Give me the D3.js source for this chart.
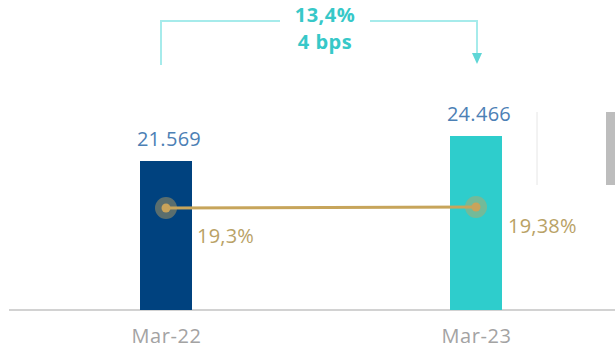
<!DOCTYPE html>
<html>
<head>
<meta charset="utf-8">
<script src="https://cdn.jsdelivr.net/npm/d3@7"></script>
<style>
  html, body { margin: 0; padding: 0; background: #fff; }
  svg { display: block; }
  text { font-family: "Open Sans", "Noto Sans", sans-serif; }
</style>
</head>
<body>
<svg id="chart" width="615" height="349"></svg>
<script>
// ---- data ----
const categories = ["Mar-22", "Mar-23"];
const barValues = [21569, 24466];
const barLabels = ["21.569", "24.466"];
const ratioValues = [19.3, 19.38];
const ratioLabels = ["19,3%", "19,38%"];
const growthLabels = ["13,4%", "4 bps"];
const barColors = ["#00427f", "#2ecdcc"];

const svg = d3.select("#chart");

// ---- scales ----
const x = d3.scalePoint().domain(categories).range([166, 476]);
const y = d3.scaleLinear().domain([4300, 24466]).range([310, 136]);
const yR = d3.scaleLinear().domain([19.3, 19.38]).range([208, 207]);
const barW = 52;

// ---- baseline axis ----
const xAxis = d3.axisBottom(x).tickSize(0).tickPadding(0);
const gAxis = svg.append("g").attr("transform", "translate(0,310)").call(xAxis);
gAxis.select(".domain").remove();
gAxis.append("line")
  .attr("x1", 9).attr("x2", 615).attr("y1", 0).attr("y2", 0)
  .attr("stroke", "#d2d2d2").attr("stroke-width", 2);
gAxis.selectAll(".tick text")
  .attr("y", 33).attr("dy", 0)
  .attr("fill", "#a3a3a3")
  .attr("font-size", 20)
  .attr("letter-spacing", 0.6)
  .style("font-family", "'Open Sans', sans-serif");

// ---- bars ----
svg.selectAll("rect.bar").data(categories).enter().append("rect")
  .attr("class", "bar")
  .attr("x", d => x(d) - barW / 2)
  .attr("width", barW)
  .attr("y", (d, i) => y(barValues[i]))
  .attr("height", (d, i) => 310 - y(barValues[i]))
  .attr("fill", (d, i) => barColors[i]);

// bar value labels
svg.selectAll("text.val").data(categories).enter().append("text")
  .attr("class", "val")
  .attr("x", d => x(d) + 3)
  .attr("y", (d, i) => y(barValues[i]) - 15)
  .attr("text-anchor", "middle")
  .attr("font-size", 20)
  .attr("letter-spacing", 0.3)
  .attr("fill", "#4c80b5")
  .text((d, i) => barLabels[i]);

// ---- ratio line ----
const line = d3.line().x(d => x(d[0])).y(d => yR(d[1]));
svg.append("path")
  .datum(categories.map((c, i) => [c, ratioValues[i]]))
  .attr("d", line)
  .attr("fill", "none")
  .attr("stroke", "#c7a55b")
  .attr("stroke-width", 3);

svg.selectAll("circle.halo").data(categories).enter().append("circle")
  .attr("cx", d => x(d)).attr("cy", (d, i) => yR(ratioValues[i]))
  .attr("r", 11)
  .attr("fill", "#c7a55b").attr("fill-opacity", 0.45);
svg.selectAll("circle.dot").data(categories).enter().append("circle")
  .attr("cx", d => x(d)).attr("cy", (d, i) => yR(ratioValues[i]))
  .attr("r", 4.5)
  .attr("fill", "#c9a35a");

const ratioOffsets = [[31, 35], [32, 26]];
svg.selectAll("text.ratio").data(categories).enter().append("text")
  .attr("class", "ratio")
  .attr("x", (d, i) => x(d) + ratioOffsets[i][0])
  .attr("y", (d, i) => yR(ratioValues[i]) + ratioOffsets[i][1])
  .attr("font-size", 20)
  .attr("letter-spacing", 0.2)
  .attr("fill", "#b9a266")
  .text((d, i) => ratioLabels[i]);

// ---- growth bracket ----
const bc = "#a6ebeb";
const xl = x(categories[0]) - 5, xr = x(categories[1]) + 1;
svg.append("path")
  .attr("d", `M${xl},65 V21 H280 M370,21 H${xr} V54`)
  .attr("fill", "none").attr("stroke", bc).attr("stroke-width", 2);
svg.append("path")
  .attr("d", `M${xr - 5},53 L${xr + 5},53 L${xr},64 Z`)
  .attr("fill", "#5fd6d6");

svg.selectAll("text.growth").data(growthLabels).enter().append("text")
  .attr("class", "growth")
  .attr("x", 325)
  .attr("y", (d, i) => 22 + i * 27)
  .attr("text-anchor", "middle")
  .attr("font-size", 20)
  .attr("font-weight", "bold")
  .attr("letter-spacing", 0.5)
  .attr("fill", "#37c8c8")
  .text(d => d);

// ---- right-side decoration ----
svg.append("line").attr("x1", 537).attr("x2", 537).attr("y1", 112).attr("y2", 185)
  .attr("stroke", "#e6e6e6").attr("stroke-width", 1);
svg.append("rect").attr("x", 606).attr("y", 112).attr("width", 9).attr("height", 73)
  .attr("fill", "#bdbdbd");
</script>
</body>
</html>
